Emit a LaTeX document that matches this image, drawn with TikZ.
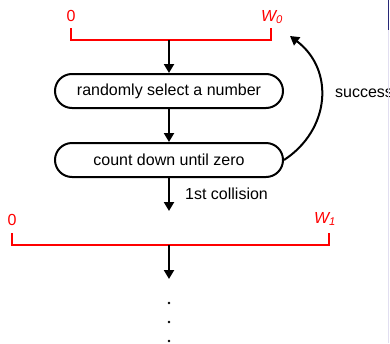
\documentclass[tikz,border=0pt]{standalone}
\usepackage{fontspec}
\setmainfont{Liberation Sans}
\usetikzlibrary{arrows.meta}
\begin{document}
\begin{tikzpicture}[x=1pt,y=-1pt,
  proc/.style={draw=black, line width=2pt, rounded corners=17pt, minimum width=228pt, minimum height=34pt, font=\fontsize{16}{18}\selectfont, inner sep=0pt},
  bar/.style={draw=red, line width=2pt},
  rlab/.style={text=red, font=\fontsize{16}{18}\selectfont, inner sep=0pt},
  flow/.style={draw=black, line width=2pt, -{Triangle[length=9pt,width=10pt]}},
  lab/.style={font=\fontsize{16}{18}\selectfont, inner sep=0pt}]
\useasboundingbox (0,0) rectangle (390,343);
\clip (0,0) rectangle (390,343);
% top bracket
\coordinate (t0) at (71,28);
\coordinate (t1) at (271,28);
\coordinate (tm) at (169,40);
\draw[bar] (t0) -- (71,40) -- (271,40) -- (t1);
\node[rlab] (z0) at (71,16) {0};
\node[rlab] (w0) at (272,17) {\itshape W\textsubscript{0}};
% boxes
\node[proc] (b1) at (169,91) {randomly select a number};
\node[proc] (b2) at (169,160) {count down until zero};
\draw[flow] (tm) -- (b1.north);
\draw[flow] (b1.south) -- (b2.north);
\coordinate (c1) at (169,211);
\draw[flow] (b2.south) -- (c1);
\node[lab, anchor=west] (col) at (185,194) {1st collision};
% bottom bracket
\coordinate (u0) at (12,233);
\coordinate (u1) at (329,233);
\coordinate (um) at (169,245);
\draw[bar] (u0) -- (12,245) -- (329,245) -- (u1);
\node[rlab] (z1) at (12,220) {0};
\node[rlab] (w1) at (325,219) {\itshape W\textsubscript{1}};
\coordinate (c2) at (169,279);
\draw[flow] (um) -- (c2);
% dots
\foreach \yy/\n in {303/d1,322/d2,341/d3}
  \fill (169,\yy) circle (1.4pt);
% success curve
\coordinate (sa) at (290,36);
\draw[flow] (b2.east) .. controls (330,130) and (335,70) .. (sa);
\node[lab, anchor=west] (suc) at (335,93) {success};
% slide edge artifacts
\draw[draw={rgb,255:red,40;green,40;blue,120}, line width=1.2pt] (388.8,0) -- (388.8,30);
\draw[draw={rgb,255:red,225;green,222;blue,240}, line width=1pt] (388.8,30) -- (388.8,343);
\end{tikzpicture}
\end{document}
